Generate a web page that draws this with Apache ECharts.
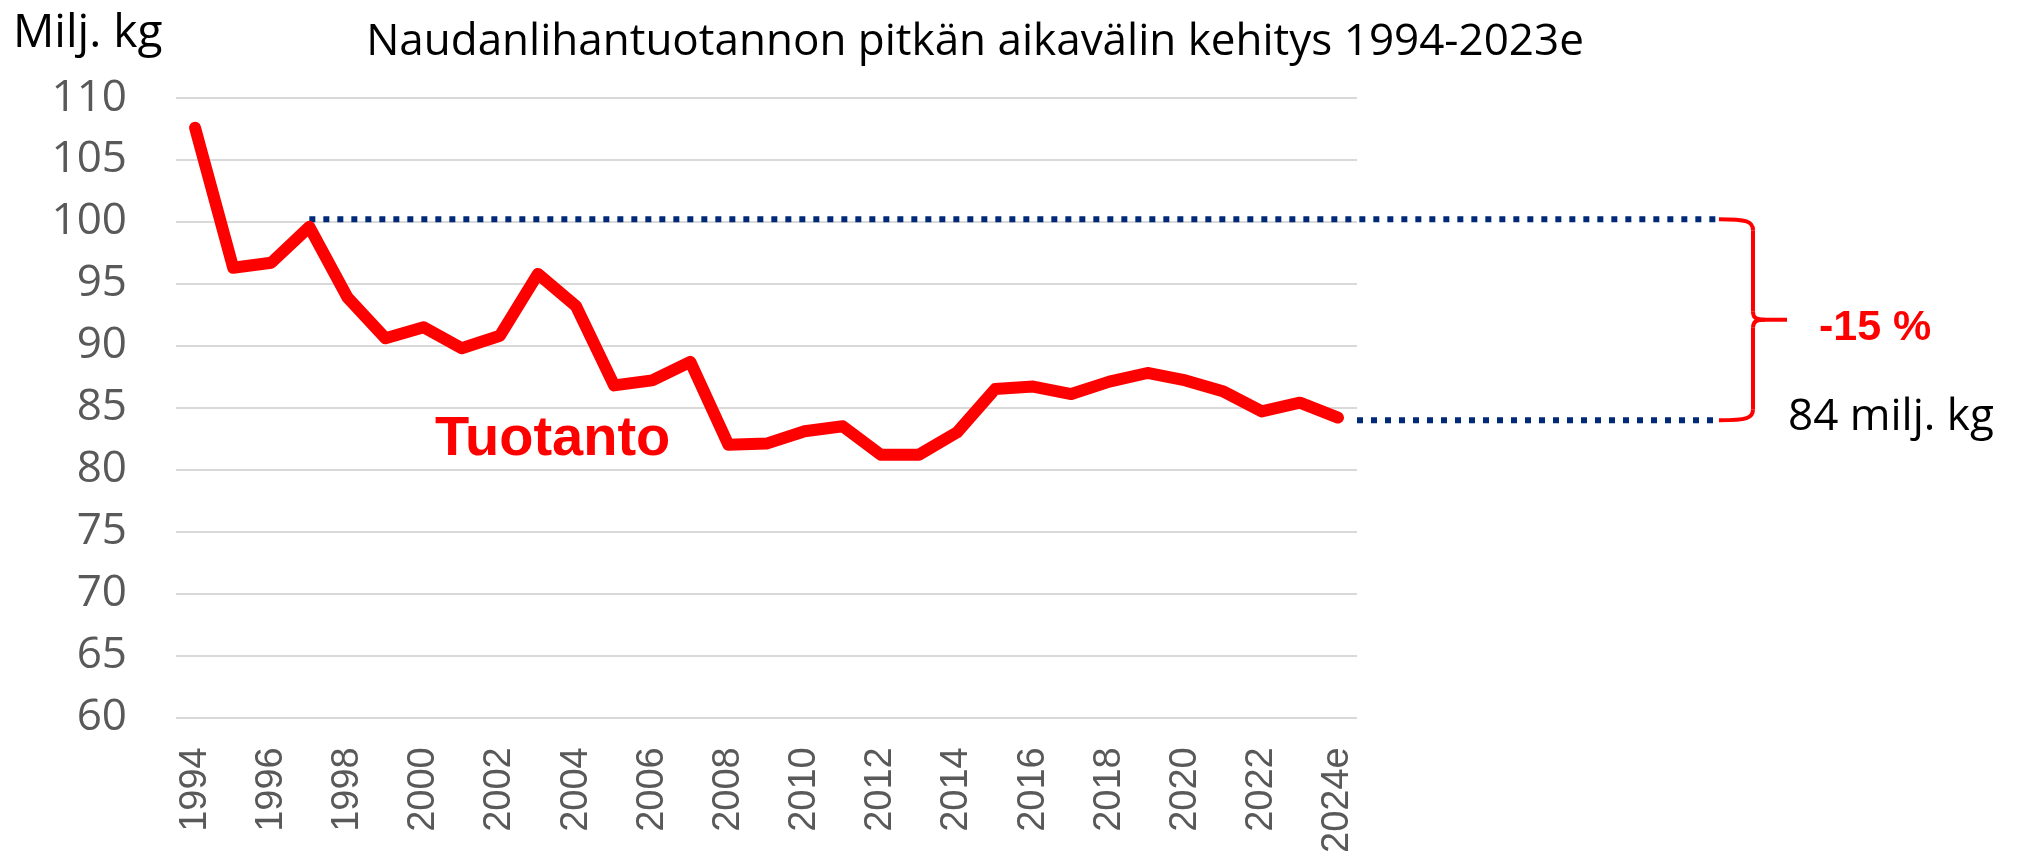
<!DOCTYPE html>
<html lang="fi">
<head>
    <meta charset="UTF-8">
    <title>Naudanlihantuotannon pitkän aikavälin kehitys</title>
    <script src="https://cdn.jsdelivr.net/npm/echarts@6/dist/echarts.min.js"></script>
    <style>
        html, body { margin: 0; padding: 0; background: #fff; }
        #chart { width: 2017px; height: 856px; }
    </style>
</head>
<body>
    <div id="chart"></div>

    <script>
        // data
        const years = ['1994', '1995', '1996', '1997', '1998', '1999', '2000', '2001', '2002', '2003',
            '2004', '2005', '2006', '2007', '2008', '2009', '2010', '2011', '2012', '2013',
            '2014', '2015', '2016', '2017', '2018', '2019', '2020', '2021', '2022', '2023', '2024e'];
        const production = [107.6, 96.3, 96.7, 99.6, 93.9, 90.6, 91.5, 89.8, 90.8, 95.8,
            93.2, 86.8, 87.2, 88.7, 82.0, 82.1, 83.1, 83.5, 81.2, 81.2,
            83.0, 86.5, 86.7, 86.1, 87.1, 87.8, 87.2, 86.3, 84.7, 85.4, 84.2];
        const yMin = 60, yMax = 110, yStep = 5;

        // reference levels (dotted lines) and texts
        const refStartYear = '1997';
        const refLevels = [100.25, 84.1];
        const titleText = 'Naudanlihantuotannon pitkän aikavälin kehitys 1994-2023e';
        const unitText = 'Milj. kg';
        const seriesLabel = 'Tuotanto';
        const changeText = '-15 %';
        const endText = '84 milj. kg';

        // layout
        const gridLeft = 176, gridTop = 98, plotW = 1181, plotH = 622;
        const extW = 1542; // dotted lines run past the plot
        const catW = plotW / years.length;
        const extMax = -0.5 + extW / catW;

        const sans = '"Open Sans", "Noto Sans", sans-serif';
        const arial = '"Liberation Sans", Arial, sans-serif';

        const chart = echarts.init(document.getElementById('chart'));

        const option = {
            animation: false,
            backgroundColor: '#fff',
            grid: [
                { left: gridLeft, top: gridTop, width: plotW, height: plotH },
                { left: gridLeft, top: gridTop, width: extW, height: plotH }
            ],
            xAxis: [
                {
                    type: 'category',
                    gridIndex: 0,
                    data: years,
                    boundaryGap: true,
                    axisLine: { show: false },
                    axisTick: { show: false },
                    axisLabel: {
                        interval: 1,
                        rotate: 90,
                        margin: 30,
                        color: '#595959',
                        fontFamily: arial,
                        fontSize: 38
                    }
                },
                { type: 'value', gridIndex: 1, min: -0.5, max: extMax, show: false }
            ],
            yAxis: [
                {
                    type: 'value',
                    gridIndex: 0,
                    min: yMin,
                    max: yMax,
                    interval: yStep,
                    axisLine: { show: false },
                    axisTick: { show: false },
                    axisLabel: {
                        margin: 49,
                        color: '#595959',
                        fontFamily: sans,
                        fontSize: 44
                    },
                    splitLine: { lineStyle: { color: '#D9D9D9', width: 2 } }
                },
                { type: 'value', gridIndex: 1, min: yMin, max: yMax, show: false }
            ],
            series: [
                {
                    name: 'top ref',
                    type: 'line',
                    xAxisIndex: 1,
                    yAxisIndex: 1,
                    showSymbol: false,
                    data: [[years.indexOf(refStartYear), refLevels[0]], [extMax, refLevels[0]]],
                    lineStyle: { color: '#002A78', width: 6, type: [6, 8] },
                    z: 1
                },
                {
                    name: 'end ref',
                    type: 'line',
                    xAxisIndex: 1,
                    yAxisIndex: 1,
                    showSymbol: false,
                    data: [[years.length - 0.5, refLevels[1]], [extMax - 0.1, refLevels[1]]],
                    lineStyle: { color: '#002A78', width: 6, type: [6, 8] },
                    z: 1
                },
                {
                    name: seriesLabel,
                    type: 'line',
                    xAxisIndex: 0,
                    yAxisIndex: 0,
                    showSymbol: false,
                    data: production,
                    lineStyle: { color: '#FF0000', width: 12, cap: 'round', join: 'round' },
                    z: 3
                }
            ]
        };
        chart.setOption(option);

        // brace between the two dotted lines, placed from their end points
        const pTop = chart.convertToPixel({ xAxisIndex: 1, yAxisIndex: 1 }, [extMax, refLevels[0]]);
        const pBot = chart.convertToPixel({ xAxisIndex: 1, yAxisIndex: 1 }, [extMax, refLevels[1]]);
        const x0 = pTop[0] + 1, xv = x0 + 34, tip = x0 + 68;
        const yT = pTop[1], yB = pBot[1], ym = (yT + yB) / 2;
        const braceStyle = { stroke: '#FF0000', fill: 'none', lineWidth: 4 };

        function curve(a, c1, c2, b) {
            return {
                type: 'bezierCurve',
                shape: { x1: a[0], y1: a[1], cpx1: c1[0], cpy1: c1[1], cpx2: c2[0], cpy2: c2[1], x2: b[0], y2: b[1] },
                style: braceStyle
            };
        }
        function seg(a, b) {
            return { type: 'line', shape: { x1: a[0], y1: a[1], x2: b[0], y2: b[1] }, style: braceStyle };
        }

        const braceParts = [
            curve([x0, yT], [xv - 6, yT], [xv, yT + 2], [xv, yT + 11]),
            seg([xv, yT + 11], [xv, ym - 8]),
            curve([xv, ym - 8], [xv, ym - 2], [xv + 3, ym], [xv + 12, ym]),
            seg([xv + 12, ym], [tip, ym]),
            curve([xv + 12, ym], [xv + 3, ym], [xv, ym + 2], [xv, ym + 8]),
            seg([xv, ym + 8], [xv, yB - 11]),
            curve([xv, yB - 11], [xv, yB - 2], [xv - 6, yB], [x0, yB])
        ];

        chart.setOption({
            graphic: braceParts.concat([
                {
                    type: 'text', x: 13, y: 34,
                    style: { text: unitText, fill: '#000', font: '46px ' + sans, verticalAlign: 'middle' }
                },
                {
                    type: 'text', x: 975, y: 42,
                    style: { text: titleText, fill: '#000', font: '44px ' + sans, align: 'center', verticalAlign: 'middle' }
                },
                {
                    type: 'text', x: 435, y: 440,
                    style: { text: seriesLabel, fill: '#FF0000', font: 'bold 56px ' + arial, verticalAlign: 'middle' }
                },
                {
                    type: 'text', x: 1819, y: 328,
                    style: { text: changeText, fill: '#FF0000', font: 'bold 43px ' + arial, verticalAlign: 'middle' }
                },
                {
                    type: 'text', x: 1788, y: 417,
                    style: { text: endText, fill: '#000', font: '44px ' + sans, verticalAlign: 'middle' }
                }
            ])
        });
    </script>
</body>
</html>
